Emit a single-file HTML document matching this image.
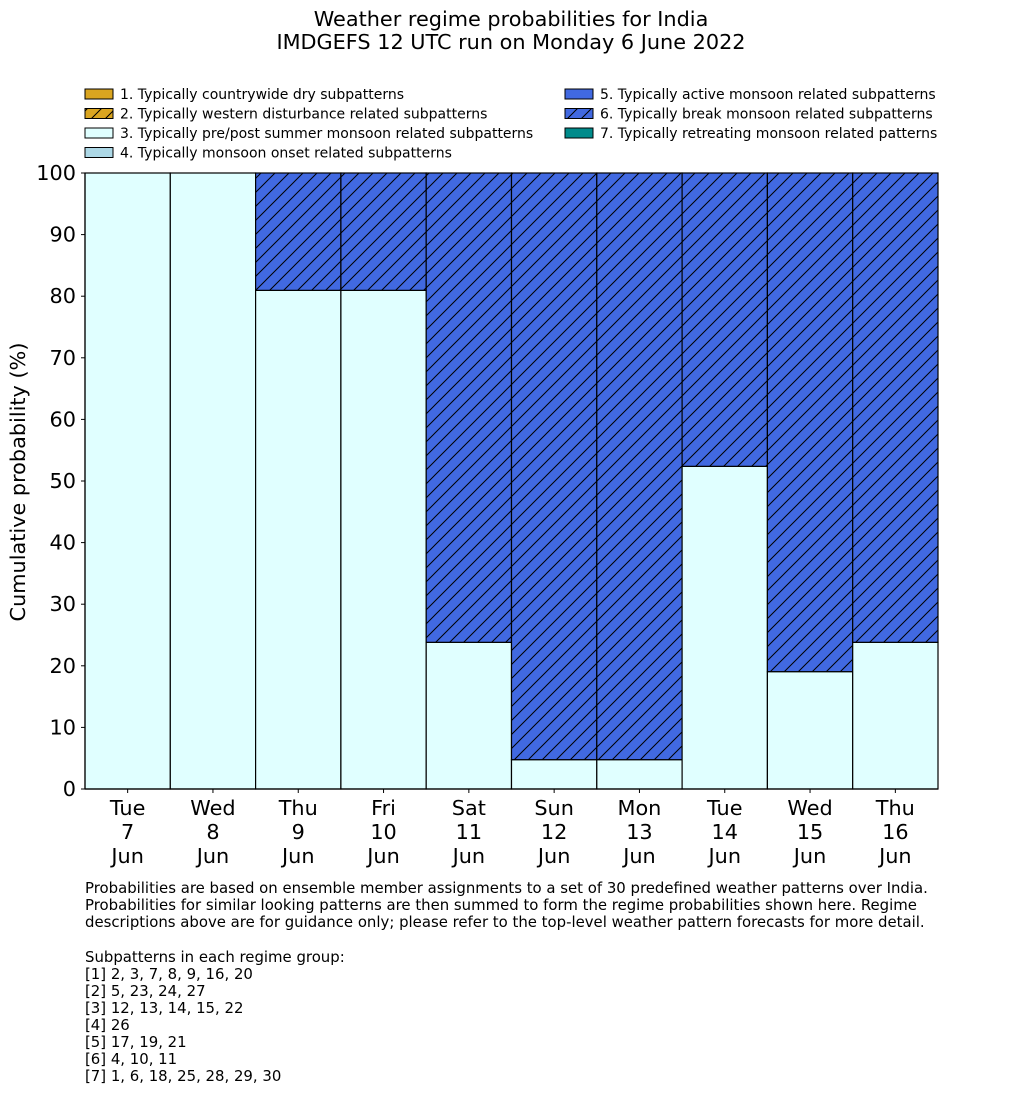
<!DOCTYPE html>
<html><head><meta charset="utf-8"><style>
body{margin:0;background:#fff;}
svg text{font-family:"DejaVu Sans","Liberation Sans",sans-serif;fill:#000;}
</style></head><body>
<svg width="1033" height="1114" xmlns="http://www.w3.org/2000/svg">
<defs>
<pattern id="hatch" patternUnits="userSpaceOnUse" width="14" height="14">
<rect width="14" height="14" fill="#4169e1"/>
<path d="M-1,1 L1,-1 M0,14 L14,0 M13,15 L15,13" stroke="#000" stroke-width="1"/>
</pattern>
<pattern id="hatchG" patternUnits="userSpaceOnUse" width="14" height="14">
<rect width="14" height="14" fill="#daa520"/>
<path d="M-1,1 L1,-1 M0,14 L14,0 M13,15 L15,13" stroke="#000" stroke-width="1"/>
</pattern>
</defs>
<text x="511" y="26" font-size="20.8" text-anchor="middle">Weather regime probabilities for India</text>
<text x="511" y="49" font-size="20.8" text-anchor="middle">IMDGEFS 12 UTC run on Monday 6 June 2022</text>
<g id="legend" font-size="14"></g>
<g id="plot"></g>
<text transform="translate(25,482) rotate(-90)" font-size="20.8" text-anchor="middle">Cumulative probability (%)</text>
<g font-size="14.9">
<text x="85" y="893">Probabilities are based on ensemble member assignments to a set of 30 predefined weather patterns over India.</text>
<text x="85" y="910">Probabilities for similar looking patterns are then summed to form the regime probabilities shown here. Regime</text>
<text x="85" y="927">descriptions above are for guidance only; please refer to the top-level weather pattern forecasts for more detail.</text>
<text x="85" y="962">Subpatterns in each regime group:</text>
<text x="85" y="979">[1] 2, 3, 7, 8, 9, 16, 20</text>
<text x="85" y="996">[2] 5, 23, 24, 27</text>
<text x="85" y="1013">[3] 12, 13, 14, 15, 22</text>
<text x="85" y="1030">[4] 26</text>
<text x="85" y="1047">[5] 17, 19, 21</text>
<text x="85" y="1064">[6] 4, 10, 11</text>
<text x="85" y="1081">[7] 1, 6, 18, 25, 28, 29, 30</text>
</g>
</svg>
<script>
const days=["Tue","Wed","Thu","Fri","Sat","Sun","Mon","Tue","Wed","Thu"];
const dates=["7","8","9","10","11","12","13","14","15","16"];
const prePost=[100,100,80.95,80.95,23.81,4.76,4.76,52.38,19.05,23.81];
const breakMonsoon=[0,0,19.05,19.05,76.19,95.24,95.24,47.62,80.95,76.19];
const yTicks=[0,10,20,30,40,50,60,70,80,90,100];
const legendLabels=["1. Typically countrywide dry subpatterns","2. Typically western disturbance related subpatterns","3. Typically pre/post summer monsoon related subpatterns","4. Typically monsoon onset related subpatterns","5. Typically active monsoon related subpatterns","6. Typically break monsoon related subpatterns","7. Typically retreating monsoon related patterns"];
const legendFills=["#daa520","url(#hatchG)","#e0ffff","#add8e6","#4169e1","url(#hatch)","#008b8b"];

const NS="http://www.w3.org/2000/svg";
const X0=85,X1=938,Y0=789,Y1=173;
const bw=(X1-X0)/days.length;
const xs=i=>X0+i*bw;
const ys=v=>Y0-(v/100)*(Y0-Y1);
const plot=document.getElementById('plot');
function mk(tag,attrs,parent){const e=document.createElementNS(NS,tag);for(const k in attrs)e.setAttribute(k,attrs[k]);parent.appendChild(e);return e;}
days.forEach((d,i)=>{
  const a=prePost[i],b=breakMonsoon[i];
  const r1=mk('rect',{x:xs(i),y:ys(a),width:bw,height:ys(0)-ys(a),fill:'#e0ffff',stroke:'#000','stroke-width':1.2},plot);
  
  
  if(b>0){
    const r2=mk('rect',{x:xs(i),y:ys(a+b),width:bw,height:ys(a)-ys(a+b),fill:'url(#hatch)',stroke:'#000','stroke-width':1.2},plot);
    
    
  }
  const cx=xs(i)+bw/2;
  mk('line',{x1:cx,x2:cx,y1:Y0,y2:Y0+4,stroke:'#000'},plot);
  const t=mk('text',{x:cx,'font-size':20.8,'text-anchor':'middle'},plot);
  
  
  [d,dates[i],"Jun"].forEach((s,j)=>{const ts=mk('tspan',{x:cx,y:Y0+26+j*24},t);ts.textContent=s;});
});
mk('line',{x1:X0,x2:X0,y1:Y1,y2:Y0,stroke:'#000','stroke-width':1.2},plot);
mk('line',{x1:X0,x2:X1,y1:Y0,y2:Y0,stroke:'#000','stroke-width':1.2},plot);
yTicks.forEach(v=>{
  mk('line',{x1:X0-4,x2:X0,y1:ys(v),y2:ys(v),stroke:'#000'},plot);
  const t=mk('text',{x:X0-9,y:ys(v)+7,'font-size':20.8,'text-anchor':'end'},plot);
  
  
  t.textContent=v;
});
const lg=document.getElementById('legend');
legendLabels.forEach((s,i)=>{
  const col=i<4?0:1,row=i<4?i:i-4;
  const x=col?565:85,y=89+row*19.5;
  const g=mk('g',{},lg);
  
  
  mk('rect',{x:x,y:y,width:28,height:10,fill:legendFills[i],stroke:'#000','stroke-width':1},g);
  const t=mk('text',{x:x+35,y:y+10},g);t.textContent=s;
});
</script>
</body></html>
